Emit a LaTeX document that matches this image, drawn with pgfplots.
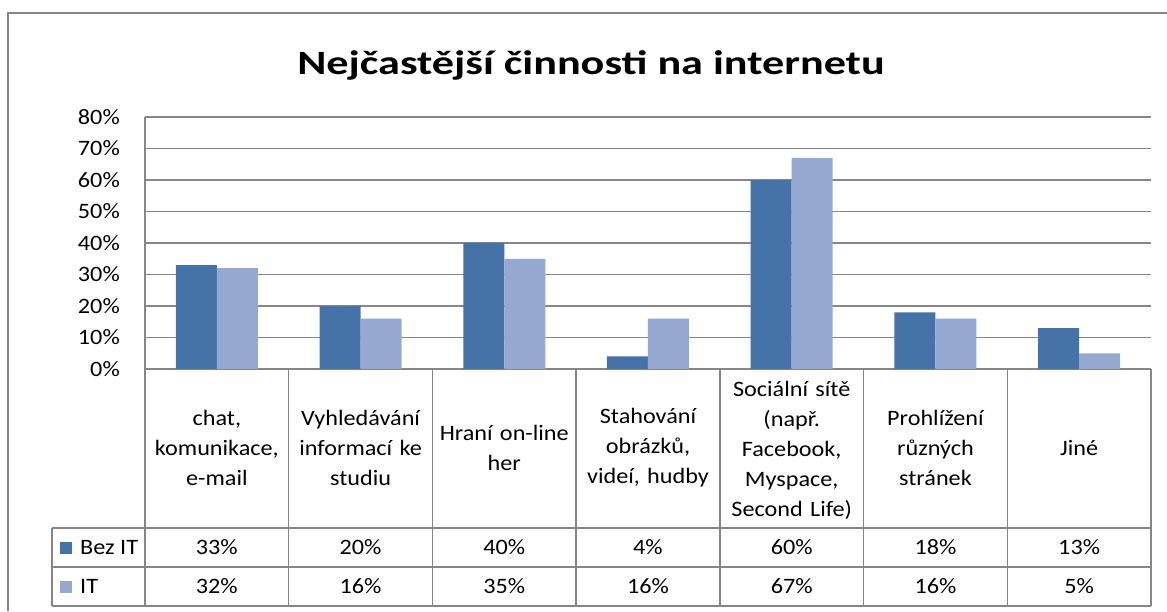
\documentclass[border=0pt]{standalone}
\usepackage{pgfplots}
\pgfplotsset{compat=1.18}
\usepackage{fontspec}
\setmainfont{Carlito}
\newfontfamily\titlefont[FakeStretch=1.3]{Carlito}
\newfontfamily\labelfont[FakeStretch=1.1]{Carlito}
\definecolor{darkbar}{RGB}{69,114,167}
\definecolor{lightbar}{RGB}{149,169,208}
\definecolor{gridgray}{RGB}{134,134,134}
\begin{document}
\begin{tikzpicture}[x=1pt,y=1pt]
\path[use as bounding box] (0,0) rectangle (1167,611);
\fill[white] (0,0) rectangle (1167,611);
\draw[gridgray, line width=2.2pt] (8,0) -- (8,598) -- (1167,598);
\node[anchor=base, inner sep=0pt, font=\titlefont\fontsize{34}{40}\selectfont\bfseries] at (591,536) {Nejčastější činnosti na internetu};
\begin{axis}[at={(145pt,242pt)}, anchor=south west, scale only axis,
  width=1006pt, height=252pt,
  ybar=0pt, bar width=0.2853,
  xmin=-0.5, xmax=6.5, ymin=0, ymax=80,
  ytick={0,10,...,80},
  yticklabels={0\%,10\%,20\%,30\%,40\%,50\%,60\%,70\%,80\%},
  xtick=\empty,
  axis lines*=left,
  axis line style={gridgray, line width=1.3pt, -},
  major tick length=0pt,
  ymajorgrids, grid style={gridgray, line width=1.3pt},
  yticklabel style={font=\labelfont\fontsize{22}{26}\selectfont, inner sep=0pt, anchor=east, xshift=-25pt},
  clip=false]
\addplot[fill=darkbar, draw=none] coordinates {(0,33) (1,20) (2,40) (3,4) (4,60) (5,18) (6,13)};
\addplot[fill=lightbar, draw=none] coordinates {(0,32) (1,16) (2,35) (3,16) (4,67) (5,16) (6,5)};
\end{axis}
% data table
\foreach \k in {0,...,7} \draw[gridgray, line width=1.3pt] ({145+\k*143.714},242) -- ({145+\k*143.714},5);
\draw[gridgray, line width=1.3pt] (52,83) -- (1151,83);
\draw[gridgray, line width=2pt] (52,44) -- (1151,44);
\draw[gridgray, line width=1.3pt] (52,5) -- (1151,5);
\draw[gridgray, line width=1.3pt] (52,83) -- (52,5);
\begin{scope}[every node/.style={font=\labelfont\fontsize{22}{30}\selectfont, align=center, inner sep=0pt, text width=140pt}]
\node at ({145+0.5*143.714},163) {chat,\\komunikace,\\e-mail};
\node at ({145+1.5*143.714},163) {Vyhledávání\\informací ke\\studiu};
\node at ({145+2.5*143.714},163) {Hraní on-line\\her};
\node at ({145+3.5*143.714},163) {Stahování\\obrázků,\\videí, hudby};
\node at ({145+4.5*143.714},161) {Sociální sítě\\(např.\\Facebook,\\Myspace,\\Second Life)};
\node at ({145+5.5*143.714},163) {Prohlížení\\různých\\stránek};
\node at ({145+6.5*143.714},163) {Jiné};
\end{scope}
\begin{scope}[every node/.style={font=\labelfont\fontsize{22}{26}\selectfont, inner sep=0pt}]
\foreach \v [count=\i from 0] in {33,20,40,4,60,18,13}
  \node at ({145+(\i+0.5)*143.714},63.5) {\v\%};
\foreach \v [count=\i from 0] in {32,16,35,16,67,16,5}
  \node at ({145+(\i+0.5)*143.714},24.5) {\v\%};
\fill[darkbar] (60,57.5) rectangle (72,69.5);
\fill[lightbar] (60,18.5) rectangle (72,30.5);
\node[anchor=west] at (80,63.5) {Bez IT};
\node[anchor=west] at (80,24.5) {IT};
\end{scope}
\end{tikzpicture}
\end{document}
